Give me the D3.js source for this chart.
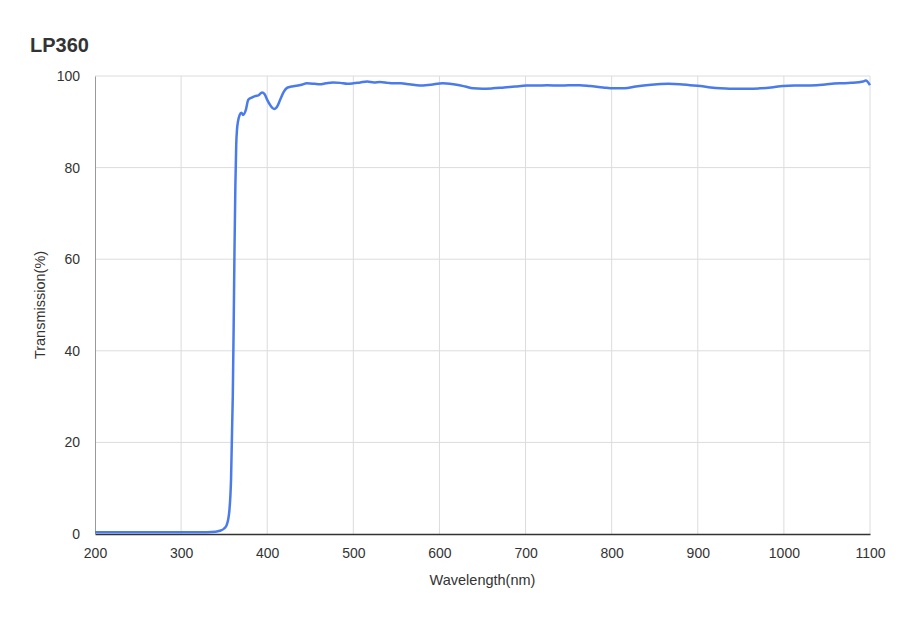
<!DOCTYPE html>
<html><head><meta charset="utf-8">
<script src="https://cdn.jsdelivr.net/npm/d3@7"></script>
<style>body{margin:0;background:#fff;}svg{display:block;font-family:"Liberation Sans",Arial,sans-serif;}</style>
</head><body><svg id="c" width="900" height="618"></svg>
<script>
const title = "LP360";
const xTicks = [200,300,400,500,600,700,800,900,1000,1100];
const yTicks = [0,20,40,60,80,100];
const wavelength = [200,250,300,330,340,345,350,353,356,358,360,361,362,363,364,365,366,368,370,372,375,378,382,386,390,394,397,400,404,408,412,415,419,423,428,432,440,446,455,461,468,476,485,493,500,508,516,524,531,540,546,555,565,577,590,604,612,620,630,639,650,662,675,688,701,713,725,740,750,763,775,790,802,815,828,840,853,866,879,891,903,915,926,937,948,960,972,985,999,1012,1025,1038,1050,1065,1078,1092,1095,1100];
const transmission = [0.4,0.4,0.4,0.4,0.5,0.7,1.2,2,5,12,30,45,62,76,85,88.5,90,91.5,92,91.5,92.5,94.8,95.3,95.6,95.8,96.4,96,94.8,93.5,92.8,93.5,94.8,96.5,97.4,97.7,97.8,98.1,98.4,98.3,98.2,98.4,98.6,98.5,98.3,98.4,98.6,98.8,98.6,98.7,98.5,98.4,98.4,98.2,97.9,98.1,98.4,98.3,98.1,97.7,97.3,97.2,97.3,97.5,97.7,97.9,97.9,98.0,97.9,98.0,98.0,97.8,97.5,97.3,97.3,97.7,98.0,98.2,98.3,98.2,98.0,97.8,97.5,97.3,97.2,97.2,97.2,97.3,97.5,97.8,97.9,97.9,98.0,98.2,98.4,98.5,98.8,99.0,98.0];

const svg = d3.select("#c");
const L=95,R=870,T=76,B=534;
const x = d3.scaleLinear().domain([200,1100]).range([L,R]);
const y = d3.scaleLinear().domain([0,100]).range([B,T]);

svg.append("text").attr("x",30).attr("y",52).attr("font-size",20).attr("font-weight","bold").attr("fill","#333").text(title);

// grid
svg.append("g").selectAll("line").data(yTicks.filter(d=>d>0)).join("line")
  .attr("x1",L).attr("x2",R).attr("y1",d=>y(d)).attr("y2",d=>y(d)).attr("stroke","#dcdcdc").attr("stroke-width",1);
svg.append("g").selectAll("line").data(xTicks.filter(d=>d>200)).join("line")
  .attr("x1",d=>x(d)).attr("x2",d=>x(d)).attr("y1",T).attr("y2",B).attr("stroke","#dcdcdc").attr("stroke-width",1);

// axes
const xa = svg.append("g").attr("transform",`translate(0,${B})`).call(d3.axisBottom(x).tickValues(xTicks).tickFormat(d3.format("d")).tickSize(0).tickPadding(14));
xa.select(".domain").attr("stroke","#333").attr("stroke-width",1.5);
xa.selectAll("text").attr("font-size",14).attr("fill","#333").attr("font-family","Liberation Sans,Arial,sans-serif");
const ya = svg.append("g").attr("transform",`translate(${L},0)`).call(d3.axisLeft(y).tickValues(yTicks).tickSize(0).tickPadding(15));
ya.select(".domain").attr("stroke","#999").attr("stroke-width",1);
ya.selectAll("text").attr("font-size",14).attr("fill","#333").attr("font-family","Liberation Sans,Arial,sans-serif");

svg.append("text").attr("x",(L+R)/2).attr("y",585).attr("text-anchor","middle").attr("font-size",14.5).attr("fill","#333").text("Wavelength(nm)");
svg.append("text").attr("transform",`translate(45,${(T+B)/2}) rotate(-90)`).attr("text-anchor","middle").attr("font-size",14.5).attr("fill","#333").text("Transmission(%)");

const data = wavelength.map((w,i)=>[w,transmission[i]]);
svg.append("path").datum(data).attr("fill","none").attr("stroke","#4a7bea").attr("stroke-width",2.5).attr("stroke-linejoin","round")
  .attr("d",d3.line().x(d=>x(d[0])).y(d=>y(d[1])).curve(d3.curveMonotoneX));
</script></body></html>
